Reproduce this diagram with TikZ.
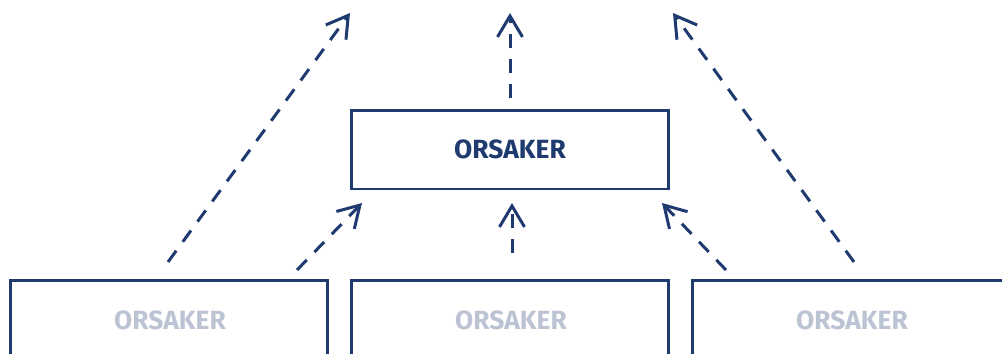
\documentclass[tikz,border=0pt]{standalone}
\usepackage{fontspec}
\setmainfont{Fira Sans}
\usetikzlibrary{arrows.meta, positioning}
\definecolor{navy}{RGB}{30,58,110}
\definecolor{fadedtext}{RGB}{188,196,212}

\begin{document}
\begin{tikzpicture}[x=0.02cm, y=-0.02cm,
          > = {Straight Barb[length=0.42cm, width=0.5cm, line width=0.06cm]}, % open arrow head
          line width = 0.06cm
      ]

      \tikzstyle{mainbox}=[
          draw = navy,
          fill = white,
          minimum width = 6.36cm,
          minimum height = 1.58cm,
          font = \fontsize{15}{18}\selectfont\bfseries,
          text = navy
      ]
      \tikzstyle{causebox}=[
          mainbox,
          anchor = north,
          minimum height = 3cm,
          text = fadedtext
      ]
      \tikzstyle{link}=[draw = navy, ->, dash pattern = on 0.28cm off 0.22cm]

  \clip (0,0) rectangle (1002,353);

  % Draw the boxes.
  \node[mainbox] (main) at (510, 149.5) {ORSAKER};

  \node[causebox] (left) at (169, 279) {};
  \node[causebox] (mid) at (510, 279) {};
  \node[causebox] (right) at (851, 279) {};

  \node[text = fadedtext, font = \fontsize{15}{18}\selectfont\bfseries] (leftl) at (170, 320) {ORSAKER};
  \node[text = fadedtext, font = \fontsize{15}{18}\selectfont\bfseries] (midl) at (511, 320) {ORSAKER};
  \node[text = fadedtext, font = \fontsize{15}{18}\selectfont\bfseries] (rightl) at (852, 320) {ORSAKER};

  % Ends of the arrows.
  \coordinate (a1) at (168, 262);
  \coordinate (a2) at (350, 13);
  \coordinate (b1) at (510, 98);
  \coordinate (b2) at (510, 13);
  \coordinate (c1) at (854, 262);
  \coordinate (c2) at (673, 13);

  \coordinate (d1) at (297, 270);
  \coordinate (d2) at (362, 203);
  \coordinate (e1) at (512, 253);
  \coordinate (e2) at (512, 203);
  \coordinate (f1) at (726, 270);
  \coordinate (f2) at (662, 203);

  % Connect with dashed arrows
  \path[link] (a1) -- (a2);
  \path[link] (b1) -- (b2);
  \path[link] (c1) -- (c2);
  \path[link] (d1) -- (d2);
  \path[link] (e1) -- (e2);
  \path[link] (f1) -- (f2);
\end{tikzpicture}
\end{document}
